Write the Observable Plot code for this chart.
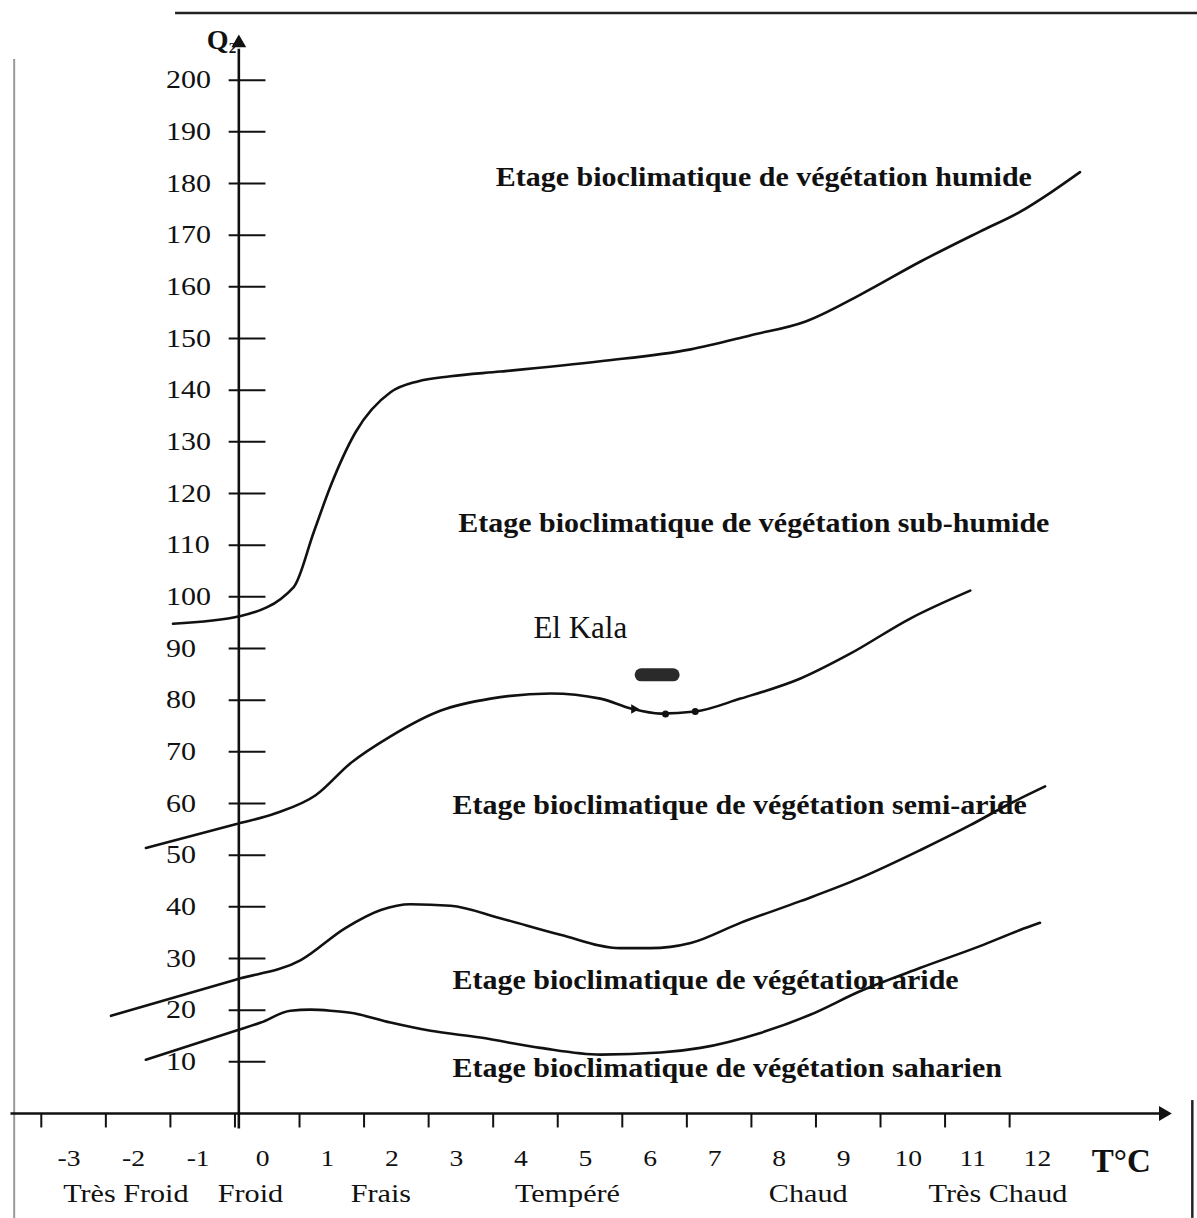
<!DOCTYPE html>
<html><head><meta charset="utf-8">
<script src="https://cdn.jsdelivr.net/npm/d3@7"></script>
<script src="https://cdn.jsdelivr.net/npm/@observablehq/plot@0.6"></script>
<style>html,body{margin:0;padding:0;background:#fff;} svg{display:block}</style>
</head><body><div id="chart"></div>
<script>
// ---- data ----
const yTicks = [10,20,30,40,50,60,70,80,90,100,110,120,130,140,150,160,170,180,190,200];
const xTickLabels = [-3,-2,-1,0,1,2,3,4,5,6,7,8,9,10,11,12];
const xTickMarks = [-3.43,-2.43,-1.43,-0.43,0.57,1.57,2.57,3.57,4.57,5.57,6.57,7.57,8.57,9.57,10.57,11.57];
const tempClasses = [
  {label: "Très Froid", t: -2.12},
  {label: "Froid", t: -0.19},
  {label: "Frais", t: 1.83},
  {label: "Tempéré", t: 4.72},
  {label: "Chaud", t: 8.45},
  {label: "Très Chaud", t: 11.39}
];
// limit curves between bioclimatic stages [T (°C), Q2]
const humidLimit = [[-1.39,94.8],[-0.34,96.3],[0.48,101.9],[0.79,112.5],[1.05,121.4],[1.44,131.9],[1.98,139.6],[2.40,141.7],[2.91,142.7],[3.68,143.6],[5.23,145.6],[6.63,147.9],[7.55,150.6],[8.41,153.3],[9.26,158.5],[10.19,164.9],[11.11,170.7],[11.73,174.5],[12.2,178.2],[12.66,182.2]];
const subHumidLimit = [[-1.81,51.4],[-0.42,56],[0.2,58.1],[0.82,61.6],[1.36,67.8],[1.98,73],[2.76,78],[3.53,80.3],[4.46,81.3],[5.23,80.3],[5.7,78.4],[6.16,77.4],[6.7,77.8],[7.4,80.3],[8.33,84.2],[9.1,89],[10.03,95.8],[10.96,101.2]];
const semiAridLimit = [[-2.35,18.9],[-0.42,25.9],[0.59,29.7],[1.28,35.9],[1.83,39.4],[2.29,40.5],[2.91,40.2],[3.68,37.8],[4.61,34.6],[5.54,32],[6.0,32],[6.63,33],[7.4,36.9],[8.33,41.1],[9.26,45.6],[10.19,51],[10.96,55.8],[11.58,60],[12.12,63.3]];
const aridLimit = [[-1.81,10.4],[-0.42,16],[-0.03,17.6],[0.43,19.9],[0.74,20.1],[1.05,19.9],[1.36,19.5],[1.98,17.6],[2.6,16],[3.37,14.7],[4.3,12.7],[5.23,11.4],[6.16,11.8],[6.78,12.7],[7.71,15.6],[8.48,19.1],[9.26,23.7],[10.19,28.2],[11.11,32.4],[11.73,35.5],[12.04,36.9]];
const stageLabels = [
  {text: "Etage bioclimatique de végétation humide", t: 3.61, q: 181.1},
  {text: "Etage bioclimatique de végétation sub-humide", t: 3.03, q: 114.3},
  {text: "Etage bioclimatique de végétation semi-aride", t: 2.94, q: 59.6},
  {text: "Etage bioclimatique de végétation aride", t: 2.94, q: 25.7},
  {text: "Etage bioclimatique de végétation saharien", t: 2.94, q: 8.7}
];
const stations = [{name: "El Kala", t: 6.11, q: 84.9}];
const stationLabelPos = [{name: "El Kala", t: 4.92, q: 93.9}];
// small markers drawn on the sub-humid limit below El Kala
const lineMarkers = [{t: 5.75, q: 78.3, kind: "triangle"}, {t: 6.24, q: 77.3, kind: "circle"}, {t: 6.7, q: 77.8, kind: "circle"}];

// ---- layout constants ----
const axisT = -0.37;
const serif = "'Liberation Serif','Times New Roman',serif";
// horizontal stretch of the scanned lettering, keyed by font size
const stretchBySize = {"25": 1.2, "24": 1.15, "26": 1.16, "27": 1.11};

const capsule = {
  draw(ctx) {
    const w = 16, h = 6.5;
    ctx.moveTo(-w, -h); ctx.lineTo(w, -h);
    ctx.arc(w, 0, h, -Math.PI/2, Math.PI/2);
    ctx.lineTo(-w, h);
    ctx.arc(-w, 0, h, Math.PI/2, 3*Math.PI/2);
    ctx.closePath();
  }
};

const curveMarks = [humidLimit, subHumidLimit, semiAridLimit, aridLimit].map(c =>
  Plot.line(c, {x: d => d[0], y: d => d[1], curve: "monotone-x", stroke: "#111", strokeWidth: 2.6})
);

const plot = Plot.plot({
  width: 1197, height: 1218,
  marginLeft: 4, marginRight: 31, marginTop: 28, marginBottom: 105,
  x: {domain: [-4, 14], axis: null},
  y: {domain: [0, 210], axis: null},
  symbol: {domain: ["triangle", "circle"], range: ["triangle", "circle"]},
  style: {fontFamily: serif, background: "white", color: "#111", overflow: "visible"},
  marks: [
    // page border (scan)
    Plot.ruleY([213], {x1: -1.35, x2: 14.6, stroke: "#222", strokeWidth: 2.5}),
    Plot.ruleX([-3.85], {y1: -20.3, y2: 204, stroke: "#999", strokeWidth: 2}),
    Plot.ruleX([14.4], {y1: -20.3, y2: 2.5, stroke: "#222", strokeWidth: 2.5}),
    // axes
    Plot.ruleX([axisT], {y1: -3, y2: 206, stroke: "#111", strokeWidth: 2.6}),
    Plot.ruleY([0], {x1: -3.9, x2: 13.9, stroke: "#111", strokeWidth: 2.6}),
    Plot.dot([[axisT, 207.2]], {x: d => d[0], y: d => d[1], symbol: "triangle", r: 5.5, fill: "#111", stroke: "none"}),
    Plot.dot([[13.95, 0]], {x: d => d[0], y: d => d[1], symbol: "triangle", rotate: 90, r: 5.5, fill: "#111", stroke: "none"}),
    Plot.ruleY(yTicks, {x1: axisT - 0.15, x2: axisT + 0.42, stroke: "#111", strokeWidth: 2}),
    Plot.ruleX(xTickMarks, {y1: 0, y2: -2.8, stroke: "#111", strokeWidth: 2}),
    Plot.text(yTicks, {x: -1.5, y: d => d, text: d => String(d), textAnchor: "start", fontSize: 25, fill: "#111"}),
    Plot.text(xTickLabels, {x: d => d, y: -8.7, text: d => String(d), fontSize: 24, fill: "#111"}),
    Plot.text(tempClasses, {x: "t", y: -15.6, text: "label", fontSize: 26, fill: "#111"}),
    Plot.text(["Q"], {x: -0.7, y: 207.8, text: d => d, fontSize: 28, fontWeight: "bold", fill: "#111"}),
    Plot.text(["2"], {x: -0.47, y: 206.2, text: d => d, fontSize: 15, fontWeight: "bold", fill: "#111"}),
    Plot.text(["T°C"], {x: 13.3, y: -9.3, text: d => d, fontSize: 33, fontWeight: "bold", fill: "#111"}),
    ...curveMarks,
    Plot.dot(lineMarkers, {x: "t", y: "q", symbol: "kind", rotate: 90, r: 3.5, fill: "#111", stroke: "none"}),
    Plot.text(stageLabels, {x: "t", y: "q", text: "text", textAnchor: "start", fontSize: 27, fontWeight: "bold", fill: "#111"}),
    Plot.dot(stations, {x: "t", y: "q", symbol: capsule, fill: "#2a2a2a", stroke: "none"}),
    Plot.text(stationLabelPos, {x: "t", y: "q", text: "name", fontSize: 31, fill: "#111"})
  ]
});
document.getElementById("chart").appendChild(plot);

// widen the lettering like the scanned original
d3.select(plot).selectAll("g[aria-label='text']").each(function() {
  const f = stretchBySize[this.getAttribute("font-size")];
  if (!f) return;
  d3.select(this).selectAll("text").each(function() {
    const len = this.getComputedTextLength();
    this.setAttribute("textLength", (len * f).toFixed(1));
    this.setAttribute("lengthAdjust", "spacingAndGlyphs");
  });
});
</script>
</body></html>
